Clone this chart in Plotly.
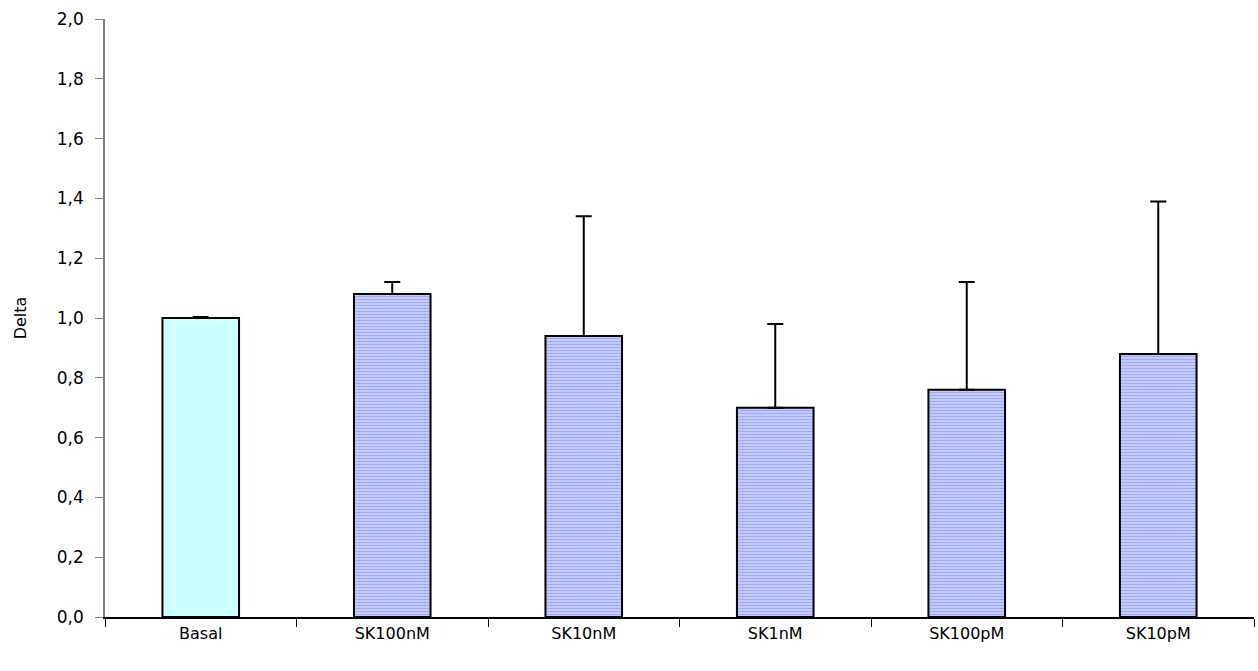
import plotly.graph_objects as go

# Mean response per condition and its upper standard deviation
conditions = ["Basal", "SK100nM", "SK10nM", "SK1nM", "SK100pM", "SK10pM"]
delta_mean = [1.00, 1.08, 0.94, 0.70, 0.76, 0.88]
delta_sd = [0.003, 0.04, 0.40, 0.28, 0.36, 0.51]

y_ticks = [0.0, 0.2, 0.4, 0.6, 0.8, 1.0, 1.2, 1.4, 1.6, 1.8, 2.0]

font_family = "DejaVu Sans"

basal_fill = "#ccffff"
treat_bg = "#c4ccff"
treat_fg = "#9fa9f7"

fig = go.Figure()

# Control bar (solid fill)
fig.add_trace(go.Bar(
    x=conditions[:1],
    y=delta_mean[:1],
    width=0.4,
    marker=dict(color=basal_fill, line=dict(color="black", width=2)),
    error_y=dict(type="data", array=delta_sd[:1], arrayminus=[0],
                 symmetric=False, color="black", thickness=2, width=8),
    showlegend=False,
))

# Treatment bars (horizontal hatching)
fig.add_trace(go.Bar(
    x=conditions[1:],
    y=delta_mean[1:],
    width=0.4,
    marker=dict(
        color=treat_bg,
        line=dict(color="black", width=2),
        pattern=dict(shape="-", fgcolor=treat_fg, bgcolor=treat_bg,
                     size=3, solidity=0.35, fillmode="replace"),
    ),
    error_y=dict(type="data", array=delta_sd[1:], arrayminus=[0] * 5,
                 symmetric=False, color="black", thickness=2, width=8),
    showlegend=False,
))

fig.update_layout(
    width=1258, height=671,
    margin=dict(l=105, r=4, t=19, b=54),
    paper_bgcolor="white", plot_bgcolor="white",
    separators=",.",
    barmode="overlay",
    font=dict(family=font_family, size=17, color="black"),
    xaxis=dict(
        type="category",
        categoryorder="array", categoryarray=conditions,
        range=[-0.5, 5.5],
        tickson="boundaries",
        ticks="outside", ticklen=8, tickcolor="black", tickwidth=1,
        showline=True, linecolor="black", linewidth=1.5,
        showgrid=False, zeroline=False,
        tickfont=dict(size=16),
        ticklabelstandoff=1,
    ),
    yaxis=dict(
        range=[0, 2.0],
        tickvals=y_ticks, tickformat=".1f",
        ticks="outside", ticklen=8, tickcolor="#808080", tickwidth=1,
        showline=True, linecolor="#808080", linewidth=1.5,
        showgrid=False, zeroline=False,
        title=dict(text="Delta", font=dict(size=16), standoff=26),
        tickfont=dict(size=17),
        ticklabelstandoff=8,
    ),
)

fig.write_html("out.html")
